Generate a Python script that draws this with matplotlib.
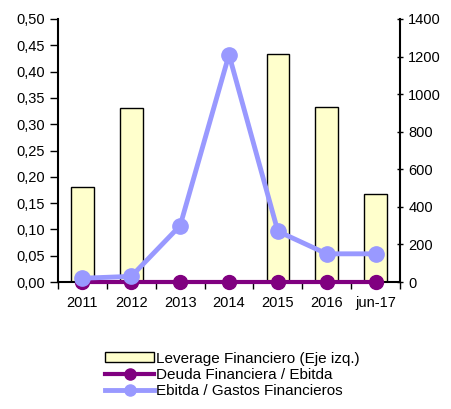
import matplotlib as mpl
mpl.use('Agg')
import matplotlib.pyplot as plt
from matplotlib.ticker import FuncFormatter
from matplotlib.lines import Line2D
from matplotlib.patches import Patch

categories = ['2011', '2012', '2013', '2014', '2015', '2016', 'jun-17']
leverage = [0.18, 0.33, 0.0, 0.0, 0.433, 0.332, 0.168]
deuda_ebitda = [0.0, 0.0, 0.0, 0.0, 0.0, 0.0, 0.0]
ebitda_gastos = [20, 30, 300, 1210, 270, 150, 150]
left_ticks = [0.0, 0.05, 0.10, 0.15, 0.20, 0.25, 0.30, 0.35, 0.40, 0.45, 0.50]
right_ticks = [0, 200, 400, 600, 800, 1000, 1200, 1400]

plt.rcParams['font.family'] = ['Liberation Sans', 'DejaVu Sans']
plt.rcParams['font.size'] = 10.5

fig = plt.figure(figsize=(4.51, 4.09), dpi=100)
ax = fig.add_axes([58/451, 1-282/409, 342/451, 263/409])
x = list(range(len(categories)))

ax.bar(x, leverage, width=0.46, color='#FFFFCC', edgecolor='black', linewidth=1, zorder=2)
ax.set_xlim(-0.5, len(categories)-0.5)
ax.set_ylim(0, 0.5)
ax.set_yticks(left_ticks)
ax.yaxis.set_major_formatter(FuncFormatter(lambda v, p: ('%.2f' % v).replace('.', ',')))
ax.set_xticks(x)
ax.set_xticklabels(categories)
ax.set_xticks([i-0.5 for i in range(len(categories)+1)], minor=True)
ax.tick_params(axis='x', which='major', length=0, pad=10)
ax.tick_params(axis='x', which='minor', length=5, direction='out', width=1)
ax.tick_params(axis='y', length=6, direction='out', width=1)
for s in ['top', 'right']:
	ax.spines[s].set_visible(False)
ax.spines['left'].set_linewidth(1.5)
ax.spines['bottom'].set_linewidth(1.5)

ax2 = ax.twinx()
ax2.set_ylim(0, 1400)
ax2.set_yticks(right_ticks)
ax2.tick_params(axis='y', length=5, direction='inout', width=1)
for s in ['top', 'left', 'bottom']:
	ax2.spines[s].set_visible(False)
ax2.spines['right'].set_linewidth(1.5)
ax2.plot(x, [v*2800 for v in deuda_ebitda], color='#800080', linewidth=3, marker='o',
	markersize=10, zorder=3, clip_on=False)
ax2.plot(x, ebitda_gastos, color='#9999FF', linewidth=3.5, marker='o', markersize=11,
	zorder=4, clip_on=False)

handles = [
	Patch(facecolor='#FFFFCC', edgecolor='black', linewidth=1),
	Line2D([], [], color='#800080', linewidth=3, marker='o', markersize=8),
	Line2D([], [], color='#9999FF', linewidth=3.5, marker='o', markersize=8),
]
labels = ['Leverage Financiero (Eje izq.)', 'Deuda Financiera / Ebitda', 'Ebitda / Gastos Financieros']
fig.legend(handles, labels, loc='lower center', bbox_to_anchor=(0.515, 0.0), frameon=False,
	fontsize=11, handlelength=3.2, handleheight=0.6, handletextpad=0.1, labelspacing=0.15,
	borderaxespad=0.3)

fig.savefig('out.png', dpi=100)
